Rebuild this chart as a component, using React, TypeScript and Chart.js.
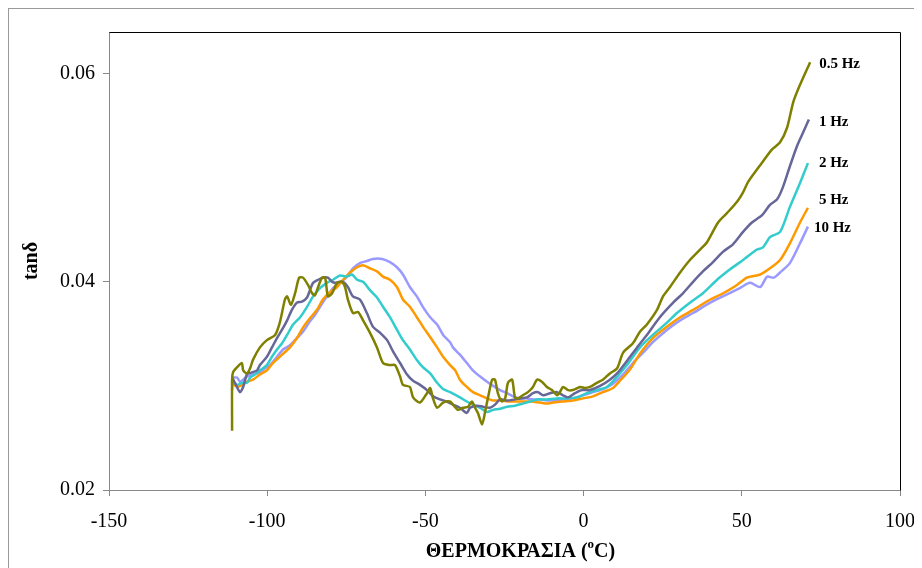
import React, { useEffect, useRef } from 'react';
import { Chart, registerables } from 'chart.js';
Chart.register(...registerables);

const xTickValues = [-150, -100, -50, 0, 50, 100];
const yTickValues = [0.02, 0.04, 0.06];
const seriesNames = ['0.5 Hz', '1 Hz', '2 Hz', '5 Hz', '10 Hz'];
const xTitle = 'ΘΕΡΜΟΚΡΑΣΙΑ (';
const xTitleSup = 'o';
const xTitleEnd = 'C)';
const yTitle = 'tanδ';

// [temperature °C, tanδ]
const hz05 = [
  [-111.1, 0.0257], [-111.1, 0.0306], [-110.8, 0.0313], [-109.5, 0.0318], [-108, 0.0322], [-107.6, 0.0315],
  [-106.4, 0.0312], [-105.4, 0.0317], [-104.5, 0.0325], [-102.3, 0.0337], [-100.1, 0.0344], [-97.5, 0.0349],
  [-96, 0.0361], [-94.4, 0.0383], [-93.7, 0.0386], [-92.5, 0.0378], [-91.2, 0.0389], [-89.9, 0.0404],
  [-88.7, 0.0404], [-87.1, 0.0397], [-85.8, 0.0389], [-84.9, 0.0387], [-83.9, 0.0395], [-82.7, 0.0404],
  [-81.7, 0.0404], [-80.8, 0.0386], [-79.5, 0.0389], [-77.9, 0.0399], [-76.4, 0.04], [-75.4, 0.0395],
  [-74.5, 0.0383], [-72.9, 0.037], [-71.3, 0.0371], [-69.7, 0.0363], [-67.5, 0.0351], [-65.3, 0.0337],
  [-63.4, 0.0322], [-61.2, 0.032], [-59.6, 0.032], [-58, 0.0309], [-57.1, 0.0301], [-54.9, 0.0299],
  [-53.9, 0.0289], [-51.7, 0.0284], [-49.5, 0.0293], [-48.5, 0.0298], [-47.6, 0.0288], [-46.3, 0.0279],
  [-44.4, 0.0284], [-42.2, 0.0285], [-41.3, 0.0282], [-39.7, 0.0277], [-38.1, 0.0279], [-36.5, 0.028],
  [-35.3, 0.0285], [-34.3, 0.0279], [-33.4, 0.0274], [-32.1, 0.0263], [-31.2, 0.0274], [-30.2, 0.0289],
  [-28.9, 0.0306], [-28, 0.0306], [-27.1, 0.0293], [-25.8, 0.0285], [-24.8, 0.0288], [-23.9, 0.0303],
  [-22.6, 0.0306], [-21.7, 0.0289], [-20.7, 0.0288], [-19.2, 0.0291], [-17.6, 0.0294], [-16, 0.0299],
  [-14.7, 0.0306], [-13.2, 0.0304], [-11.6, 0.0299], [-10, 0.0296], [-8.4, 0.0291], [-7.5, 0.0294],
  [-6.5, 0.0299], [-4.9, 0.0296], [-3.4, 0.0296], [-1.1, 0.0299], [0.4, 0.0298], [2, 0.0299],
  [4.2, 0.0303], [6.1, 0.0306], [8.3, 0.0312], [10.6, 0.0317], [12.5, 0.0332], [15.6, 0.0341],
  [17.8, 0.0352], [20, 0.0359], [23.2, 0.0373], [25.1, 0.0386], [27.3, 0.0395], [30.5, 0.0409],
  [33.6, 0.0421], [36.8, 0.0431], [39, 0.0438], [42.5, 0.0457], [45.3, 0.0466], [48.5, 0.0477],
  [50.4, 0.0486], [52, 0.0496], [55.8, 0.0512], [59.5, 0.0527], [62.1, 0.0534], [64.3, 0.0548],
  [66.2, 0.0572], [67.8, 0.0585], [71.6, 0.0611],
];

const hz1 = [
  [-111.1, 0.0308], [-110.2, 0.0303], [-108.6, 0.0294], [-107.6, 0.0299], [-106.4, 0.0311], [-104.8, 0.0313],
  [-103.2, 0.0315], [-102.3, 0.032], [-100.1, 0.0328], [-98.5, 0.0337], [-96.9, 0.0346], [-95.3, 0.0354],
  [-93.7, 0.0363], [-92.2, 0.0373], [-90.6, 0.038], [-89, 0.0381], [-87.4, 0.0385], [-86.5, 0.0392],
  [-85.5, 0.0399], [-83.9, 0.0402], [-82.4, 0.0404], [-80.8, 0.0404], [-79.5, 0.04], [-78.6, 0.0399],
  [-77, 0.04], [-76, 0.04], [-74.5, 0.0395], [-72.9, 0.0386], [-70.7, 0.0383], [-68.5, 0.037],
  [-66.6, 0.0357], [-64.3, 0.0351], [-62.1, 0.0344], [-60.2, 0.0333], [-58, 0.0322], [-55.8, 0.0311],
  [-53.9, 0.0305], [-51.7, 0.0301], [-49.5, 0.0296], [-47.6, 0.029], [-45.4, 0.0287], [-43.2, 0.0285],
  [-41.3, 0.0282], [-39.1, 0.0279], [-36.9, 0.0274], [-35.9, 0.0279], [-33.7, 0.0281], [-31.8, 0.028],
  [-29.6, 0.0279], [-28, 0.0282], [-26.4, 0.0287], [-24.2, 0.0286], [-21.7, 0.0287], [-20.1, 0.0288],
  [-17.9, 0.0289], [-16, 0.0293], [-14.4, 0.0294], [-12.8, 0.0291], [-10.6, 0.0293], [-8.4, 0.0294],
  [-6.5, 0.0291], [-4.9, 0.0289], [-2.7, 0.0293], [-0.5, 0.0296], [2, 0.0296], [5.2, 0.03],
  [8.3, 0.0306], [10.9, 0.0313], [13.7, 0.0324], [16.9, 0.0337], [20, 0.0349], [24.1, 0.0366],
  [28.3, 0.038], [31.4, 0.0389], [34.6, 0.04], [37.7, 0.041], [40.9, 0.0419], [44.1, 0.0429],
  [47.2, 0.0436], [50.4, 0.0448], [53.2, 0.0457], [56.4, 0.0464], [58.9, 0.0474], [61.1, 0.0479],
  [63, 0.0491], [65.2, 0.0511], [67.4, 0.053], [69.3, 0.0543], [71.2, 0.0556],
];

const hz2 = [
  [-111.1, 0.0296], [-110.8, 0.0304], [-109.5, 0.0301], [-108, 0.0303], [-106.4, 0.0303], [-105.4, 0.0308],
  [-103.9, 0.0311], [-102.3, 0.0315], [-100.1, 0.032], [-98.5, 0.0328], [-96.9, 0.0335], [-95.3, 0.0341],
  [-93.7, 0.0349], [-91.8, 0.0359], [-89.6, 0.0366], [-87.4, 0.0376], [-85.5, 0.0386], [-83.3, 0.0394],
  [-81.1, 0.0399], [-79.2, 0.0402], [-77, 0.0406], [-74.8, 0.0405], [-73.2, 0.0407], [-71.6, 0.0402],
  [-69.7, 0.04], [-67.5, 0.0392], [-65.3, 0.0385], [-63.4, 0.0376], [-61.2, 0.0366], [-59, 0.0354],
  [-57.1, 0.0344], [-54.9, 0.0335], [-52.7, 0.0325], [-50.8, 0.0318], [-48.5, 0.0312], [-46.3, 0.0303],
  [-44.4, 0.0297], [-42.2, 0.0294], [-39.1, 0.0289], [-36.9, 0.0285], [-35, 0.0282], [-32.7, 0.0279],
  [-30.5, 0.0275], [-28.6, 0.0277], [-26.4, 0.0278], [-24.2, 0.028], [-21.7, 0.0281], [-19.2, 0.0283],
  [-16.9, 0.0285], [-14.7, 0.0287], [-11.6, 0.0287], [-8.4, 0.0288], [-5.2, 0.0288], [-2.1, 0.0289],
  [1.1, 0.0293], [4.2, 0.0296], [7.4, 0.0299], [10.6, 0.0309], [13.7, 0.032], [17.8, 0.0337],
  [21.9, 0.0349], [26.4, 0.0361], [29.5, 0.037], [33.6, 0.038], [37.7, 0.0389], [42.2, 0.0402],
  [46.3, 0.0412], [50.4, 0.0421], [54.8, 0.0431], [56.7, 0.0433], [58.9, 0.0443], [62.1, 0.0448],
  [65.2, 0.0472], [68.4, 0.0495], [70.9, 0.0514],
];

const hz5 = [
  [-111.1, 0.0303], [-109.5, 0.0299], [-108, 0.0301], [-106.4, 0.0304], [-104.5, 0.0306], [-102.3, 0.0311],
  [-100.1, 0.0315], [-98.2, 0.0322], [-95.3, 0.033], [-92.8, 0.0337], [-90.6, 0.0346], [-88.7, 0.0356],
  [-86.5, 0.0365], [-84.3, 0.0373], [-82.4, 0.0383], [-80.2, 0.039], [-77.9, 0.0395], [-76, 0.0402],
  [-73.8, 0.0409], [-71.6, 0.0414], [-69.7, 0.0416], [-67.5, 0.0413], [-65.3, 0.041], [-63.4, 0.0405],
  [-61.2, 0.0402], [-59, 0.0395], [-57.1, 0.0383], [-54.9, 0.0376], [-52.7, 0.0366], [-50.8, 0.0357],
  [-48.5, 0.0347], [-46.3, 0.0337], [-44.4, 0.0328], [-42.2, 0.032], [-40.6, 0.0315], [-39.1, 0.0306],
  [-36.9, 0.0299], [-35, 0.0294], [-32.7, 0.0291], [-30.5, 0.0288], [-28.6, 0.0286], [-26.4, 0.0286],
  [-23.3, 0.0285], [-20.1, 0.0285], [-16.9, 0.0285], [-13.8, 0.0284], [-11.6, 0.0283], [-9.7, 0.0284],
  [-6.5, 0.0285], [-3.4, 0.0286], [-0.2, 0.0288], [3, 0.029], [6.1, 0.0294], [9.3, 0.0298],
  [11.5, 0.0305], [14.7, 0.0316], [17.8, 0.0331], [21.9, 0.0346], [26.4, 0.0357], [30.5, 0.0366],
  [34.6, 0.0373], [40, 0.0383], [44.1, 0.0389], [48.5, 0.0397], [51.6, 0.0404], [55.8, 0.0407],
  [58.9, 0.0413], [62.1, 0.0421], [65.2, 0.0437], [68.4, 0.0457], [70.9, 0.0471],
];

const hz10 = [
  [-111.1, 0.0308], [-109.5, 0.0308], [-108.6, 0.0304], [-107.6, 0.0306], [-106.4, 0.0309], [-104.5, 0.0311],
  [-102.3, 0.0313], [-100.7, 0.0317], [-99.1, 0.032], [-96.9, 0.0328], [-95, 0.0335], [-92.8, 0.0339],
  [-90.6, 0.0346], [-88.7, 0.0352], [-86.5, 0.0362], [-84.9, 0.0368], [-83.3, 0.0376], [-81.1, 0.0386],
  [-79.2, 0.0394], [-77, 0.0399], [-74.8, 0.0405], [-72.9, 0.0413], [-70.7, 0.0418], [-68.5, 0.042],
  [-66.6, 0.0422], [-63.7, 0.0422], [-61.2, 0.0419], [-59, 0.0414], [-57.1, 0.0407], [-54.9, 0.0395],
  [-52.7, 0.0386], [-50.8, 0.0376], [-48.5, 0.0366], [-46.3, 0.0359], [-44.4, 0.0349], [-42.2, 0.0342],
  [-41.3, 0.0337], [-39.1, 0.033], [-36.9, 0.0322], [-35, 0.0315], [-32.7, 0.0309], [-30.5, 0.0304],
  [-28.6, 0.03], [-26.4, 0.0296], [-24.2, 0.0293], [-22.3, 0.029], [-20.1, 0.0288], [-17.9, 0.0288],
  [-16, 0.0287], [-13.8, 0.0287], [-11.6, 0.0286], [-9.7, 0.0286], [-6.5, 0.0287], [-3.4, 0.0288],
  [-0.2, 0.0291], [3, 0.0294], [6.1, 0.0297], [9.3, 0.0302], [12.5, 0.0311], [15.6, 0.0322],
  [18.8, 0.0332], [21.9, 0.0342], [26.4, 0.0354], [30.5, 0.0363], [34.6, 0.037], [40, 0.038],
  [45.3, 0.0388], [49.4, 0.0394], [52.6, 0.0399], [55.8, 0.0395], [58, 0.0405], [60.1, 0.0404],
  [62.1, 0.0409], [65.2, 0.0418], [68.4, 0.0437], [70.9, 0.0453],
];

const seriesData = [hz05, hz1, hz2, hz5, hz10];
const seriesColors = ['#808000', '#666699', '#33CCCC', '#FF9900', '#9999FF'];
const labelOffsets = [[9, 2], [10, 3], [11, 0], [11, -8], [6, 1]];

const SERIF = '"Liberation Serif", "Times New Roman", serif';

export default function App() {
  const ref = useRef<HTMLCanvasElement>(null);

  useEffect(() => {
    document.documentElement.style.overflow = 'hidden';
    document.body.style.overflow = 'hidden';
    const canvas = ref.current;
    if (!canvas) return;

    const datasets = seriesData.map((s, i) => ({
      label: seriesNames[i],
      data: s.map(([x, y]) => ({ x, y })),
      borderColor: seriesColors[i],
      backgroundColor: seriesColors[i],
      borderWidth: 2.5,
      pointRadius: 0,
      tension: 0.25,
      fill: false,
    }));

    const decor = {
      id: 'decor',
      beforeDraw(chart: any) {
        const ctx = chart.ctx;
        ctx.save();
        ctx.strokeStyle = '#9a9a9a';
        ctx.lineWidth = 1;
        ctx.strokeRect(0.5, 0.5, chart.width + 10, chart.height + 10);
        ctx.restore();
      },
      beforeDatasetsDraw(chart: any) {
        const { ctx, chartArea: a } = chart;
        ctx.save();
        ctx.strokeStyle = '#000';
        ctx.lineWidth = 1;
        ctx.beginPath();
        ctx.moveTo(Math.round(a.left) + 0.5, Math.round(a.top) + 0.5);
        ctx.lineTo(Math.round(a.right) + 0.5, Math.round(a.top) + 0.5);
        ctx.lineTo(Math.round(a.right) + 0.5, Math.round(a.bottom) + 0.5);
        ctx.stroke();
        ctx.restore();
      },
      afterDraw(chart: any) {
        const { ctx, chartArea: a } = chart;
        ctx.save();
        // series labels at line ends
        ctx.font = `bold 15px ${SERIF}`;
        ctx.fillStyle = '#000';
        ctx.textAlign = 'left';
        ctx.textBaseline = 'middle';
        chart.data.datasets.forEach((ds: any, i: number) => {
          const meta = chart.getDatasetMeta(i);
          const last = meta.data[meta.data.length - 1];
          if (!last) return;
          ctx.fillText(ds.label, last.x + labelOffsets[i][0], last.y + labelOffsets[i][1]);
        });
        // x title with superscript
        const big = `bold 20px ${SERIF}`;
        const small = `bold 13px ${SERIF}`;
        ctx.font = big;
        const w1 = ctx.measureText(xTitle).width;
        const w3 = ctx.measureText(xTitleEnd).width;
        ctx.font = small;
        const w2 = ctx.measureText(xTitleSup).width;
        const total = w1 + w2 + w3;
        const cx = (a.left + a.right) / 2 + 16;
        const ty = 544;
        let x0 = cx - total / 2;
        ctx.textAlign = 'left';
        ctx.textBaseline = 'middle';
        ctx.font = big;
        ctx.fillText(xTitle, x0, ty);
        x0 += w1;
        ctx.font = small;
        ctx.fillText(xTitleSup, x0, ty - 7);
        x0 += w2;
        ctx.font = big;
        ctx.fillText(xTitleEnd, x0, ty);
        // y title
        ctx.translate(24, (a.top + a.bottom) / 2);
        ctx.rotate(-Math.PI / 2);
        ctx.textAlign = 'center';
        ctx.textBaseline = 'middle';
        ctx.font = big;
        ctx.fillText(yTitle, 0, 0);
        ctx.restore();
      },
    };

    const chart = new Chart(canvas, {
      type: 'line',
      data: { datasets },
      options: {
        animation: false,
        responsive: false,
        maintainAspectRatio: false,
        layout: { padding: { top: 24, right: 22, left: 0, bottom: 0 } },
        plugins: { legend: { display: false }, tooltip: { enabled: false } },
        scales: {
          x: {
            type: 'linear',
            min: -150,
            max: 100,
            afterBuildTicks: (scale: any) => {
              scale.ticks = xTickValues.map((v) => ({ value: v }));
            },
            afterFit: (scale: any) => {
              scale.height = 78;
              scale.paddingLeft = 0;
              scale.paddingRight = 0;
            },
            ticks: {
              font: { family: SERIF, size: 20 },
              color: '#000',
              padding: 14,
              maxRotation: 0,
              callback: (v: any) => String(v),
            },
            grid: { drawOnChartArea: false, drawTicks: true, tickLength: 6, tickColor: '#888' },
            border: { display: true, color: '#888', width: 1 },
          },
          y: {
            type: 'linear',
            min: 0.02,
            max: 0.064,
            afterBuildTicks: (scale: any) => {
              scale.ticks = yTickValues.map((v) => ({ value: v }));
            },
            afterFit: (scale: any) => {
              scale.width = 101;
              scale.paddingTop = 0;
              scale.paddingBottom = 0;
            },
            ticks: {
              font: { family: SERIF, size: 20 },
              color: '#000',
              padding: 8,
              callback: (v: any) => Number(v).toFixed(2),
            },
            grid: { drawOnChartArea: false, drawTicks: true, tickLength: 6, tickColor: '#888' },
            border: { display: true, color: '#888', width: 1 },
          },
        },
      },
      plugins: [decor],
    });

    return () => chart.destroy();
  }, []);

  return (
    <canvas
      ref={ref}
      width={914}
      height={560}
      style={{ display: 'block', width: 914, height: 560 }}
    />
  );
}
